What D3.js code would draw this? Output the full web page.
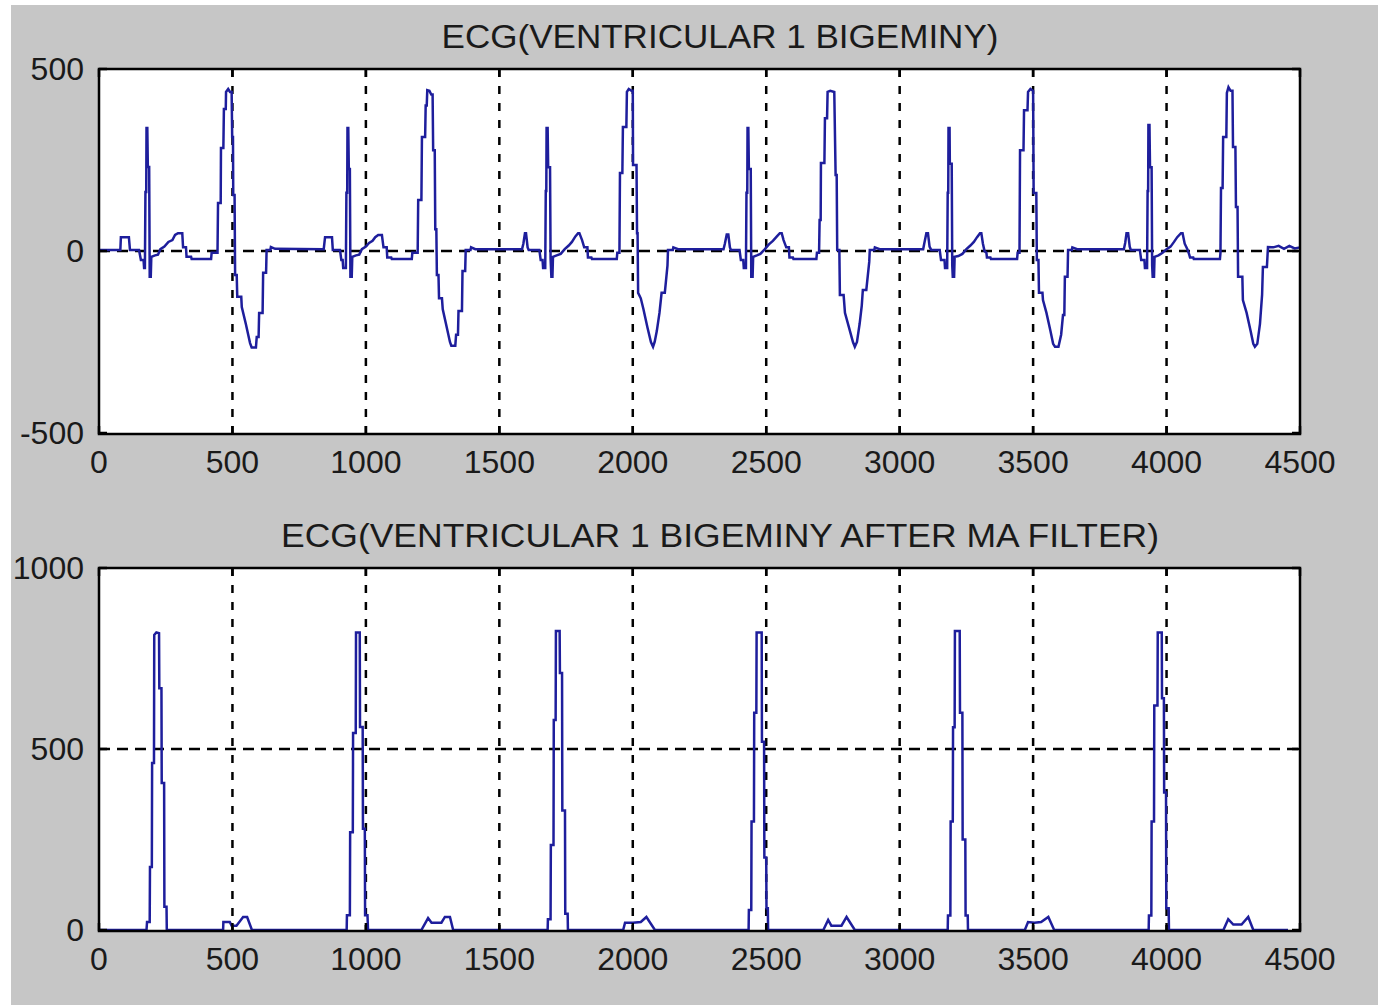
<!DOCTYPE html>
<html>
<head>
<meta charset="utf-8">
<script src="https://cdn.jsdelivr.net/npm/d3@7"></script>
<style>
  html, body { margin: 0; padding: 0; background: #ffffff; }
  svg { display: block; }
  text { font-family: "Liberation Sans", Arial, sans-serif; fill: #1a1a1a; }
</style>
</head>
<body>
<svg id="chart" width="1378" height="1005"></svg>
<script>
// ---------------- data ----------------
const titleTop = "ECG(VENTRICULAR 1 BIGEMINY)";
const titleBottom = "ECG(VENTRICULAR 1 BIGEMINY AFTER MA FILTER)";
const xTicks = [0, 500, 1000, 1500, 2000, 2500, 3000, 3500, 4000, 4500];
const xTickLabels = ["0", "500", "1000", "1500", "2000", "2500", "3000", "3500", "4000", "4500"];
const topYTicks = [-500, 0, 500];
const topYTickLabels = ["-500", "0", "500"];
const bottomYTicks = [0, 500, 1000];
const bottomYTickLabels = ["0", "500", "1000"];

// ECG signal, one array per bigeminy cycle (normal beat + ventricular beat), [sample, value]
const ecgCycle1 = [[0,3],[80,3],[82,38],[112,38],[116,3],[150,3],[157,-25],[167,-25],[169,-47],[172,-47],[174,162],[177,162],[178,338],[181,338],[183,231],[188,231],[190,-71],[194,-71],[196,-16],[210,-12],[221,-10],[230,5],[245,12],[260,25],[275,30],[285,44],[296,49],[312,49],[315,10],[326,10],[328,-16],[345,-16],[347,-22],[420,-22],[422,-5],[444,-5],[446,132],[456,132],[457,283],[466,283],[468,390],[475,390],[476,437],[484,445],[491,437],[497,437],[499,313],[502,313],[503,154],[508,154],[510,-66],[516,-66],[518,-126],[533,-126],[535,-154],[550,-200],[566,-253],[572,-265],[588,-265],[591,-236],[598,-236],[600,-170],[613,-170],[615,-60],[626,-60],[628,3],[642,3],[644,11],[660,6]];
const ecgCycle2 = [[840,5],[842,5],[847,38],[873,38],[876,3],[903,3],[908,-25],[913,-25],[915,-47],[925,-47],[927,160],[930,160],[931,338],[934,338],[936,225],[940,225],[942,-71],[947,-71],[949,-16],[963,-12],[975,-10],[985,5],[1000,12],[1012,22],[1025,28],[1035,38],[1046,44],[1060,44],[1066,10],[1078,10],[1080,-18],[1095,-18],[1097,-22],[1172,-22],[1174,-5],[1194,-5],[1196,140],[1208,140],[1210,313],[1222,313],[1224,400],[1228,400],[1230,442],[1238,440],[1245,430],[1250,430],[1252,277],[1258,277],[1260,60],[1264,60],[1266,-66],[1272,-66],[1274,-130],[1285,-130],[1288,-160],[1300,-200],[1315,-250],[1320,-260],[1335,-260],[1338,-230],[1345,-230],[1347,-165],[1360,-165],[1362,-55],[1372,-55],[1374,3],[1392,3],[1394,10],[1410,5]];
const ecgCycle3 = [[1585,5],[1590,20],[1596,49],[1600,49],[1606,10],[1610,3],[1650,3],[1655,-25],[1662,-25],[1664,-47],[1672,-47],[1674,165],[1676,165],[1677,338],[1681,338],[1683,230],[1690,230],[1692,-20],[1695,-71],[1699,-71],[1701,-16],[1715,-12],[1730,-8],[1745,5],[1760,15],[1772,25],[1785,40],[1795,49],[1800,49],[1810,30],[1818,10],[1830,10],[1832,-18],[1845,-18],[1847,-22],[1940,-22],[1942,-5],[1950,-5],[1952,214],[1961,214],[1963,341],[1976,341],[1978,437],[1985,445],[1995,440],[2000,440],[2001,236],[2014,236],[2016,49],[2018,49],[2020,-115],[2030,-130],[2040,-160],[2055,-210],[2068,-250],[2076,-263],[2082,-250],[2090,-220],[2100,-170],[2108,-115],[2120,-115],[2130,-40],[2132,3],[2150,3],[2152,10],[2170,5]];
const ecgCycle4 = [[2340,5],[2345,20],[2352,45],[2358,45],[2364,10],[2368,3],[2400,3],[2405,-25],[2414,-25],[2416,-47],[2424,-47],[2426,160],[2429,160],[2430,338],[2433,338],[2435,225],[2442,225],[2444,-71],[2449,-71],[2451,-16],[2465,-12],[2478,-8],[2495,5],[2510,18],[2525,28],[2540,40],[2551,49],[2558,49],[2565,30],[2575,10],[2585,10],[2587,-18],[2600,-18],[2602,-22],[2688,-22],[2690,-5],[2698,-5],[2700,85],[2704,85],[2705,242],[2718,242],[2720,365],[2728,365],[2730,437],[2740,440],[2755,437],[2760,209],[2764,209],[2766,3],[2774,3],[2776,-121],[2790,-121],[2795,-170],[2810,-210],[2825,-250],[2832,-263],[2840,-250],[2850,-200],[2858,-150],[2862,-107],[2875,-107],[2886,-30],[2888,3],[2905,3],[2907,10],[2925,5]];
const ecgCycle5 = [[3088,5],[3092,20],[3100,49],[3106,49],[3112,12],[3118,3],[3150,3],[3155,-25],[3168,-25],[3170,-47],[3178,-47],[3180,160],[3182,160],[3183,338],[3187,338],[3188,240],[3195,240],[3197,-40],[3199,-71],[3204,-71],[3206,-16],[3220,-14],[3235,-8],[3250,5],[3265,15],[3278,25],[3290,38],[3301,49],[3306,49],[3312,20],[3318,0],[3325,-5],[3327,-18],[3340,-18],[3342,-22],[3440,-22],[3442,-5],[3449,-5],[3451,277],[3464,277],[3466,387],[3479,387],[3481,437],[3490,445],[3500,440],[3502,159],[3512,159],[3514,-25],[3520,-25],[3522,-115],[3535,-115],[3537,-135],[3550,-170],[3565,-220],[3575,-255],[3582,-263],[3595,-263],[3605,-230],[3612,-176],[3617,-176],[3619,-71],[3629,-71],[3631,3],[3645,3],[3647,10],[3665,5]];
const ecgCycle6 = [[3840,5],[3845,22],[3850,49],[3856,49],[3862,12],[3866,3],[3900,3],[3905,-25],[3917,-25],[3919,-47],[3927,-47],[3929,165],[3931,165],[3932,346],[3936,346],[3938,230],[3944,230],[3946,-40],[3948,-71],[3953,-71],[3955,-16],[3970,-12],[3985,-5],[4000,5],[4015,12],[4028,25],[4040,38],[4054,49],[4060,49],[4068,20],[4078,5],[4085,-10],[4088,-18],[4100,-18],[4102,-22],[4200,-22],[4202,-5],[4204,173],[4210,173],[4212,313],[4224,313],[4226,434],[4232,450],[4240,440],[4247,440],[4249,286],[4258,286],[4260,121],[4266,121],[4268,-71],[4284,-71],[4286,-135],[4300,-170],[4315,-220],[4325,-255],[4331,-263],[4340,-255],[4350,-200],[4358,-120],[4361,-44],[4376,-44],[4380,11],[4400,10],[4420,14],[4440,6],[4460,14],[4480,7],[4500,10]];

// Moving-average filter output, one array per cycle (QRS peak + small bump), [sample, value]
const maCycle1 = [[0,0],[178,0],[180,22],[190,22],[191,174],[198,174],[199,461],[206,461],[207,815],[215,822],[225,820],[226,668],[234,668],[235,406],[244,406],[245,64],[253,64],[254,0],[465,0],[466,22],[490,22],[497,12],[515,12],[540,36],[555,36],[573,0]];
const maCycle2 = [[928,0],[929,41],[940,41],[941,270],[951,270],[952,544],[962,544],[963,822],[977,822],[978,561],[988,561],[989,280],[996,280],[997,41],[1006,41],[1008,0],[1208,0],[1233,33],[1246,20],[1283,20],[1296,36],[1315,36],[1327,0]];
const maCycle3 = [[1681,0],[1682,30],[1692,30],[1693,235],[1703,235],[1704,580],[1711,580],[1712,826],[1726,826],[1727,710],[1735,710],[1736,330],[1746,330],[1747,45],[1756,45],[1757,0],[1964,0],[1971,20],[2001,20],[2030,22],[2051,36],[2083,0]];
const maCycle4 = [[2434,0],[2435,55],[2444,55],[2445,300],[2454,300],[2455,600],[2463,600],[2464,822],[2483,822],[2484,520],[2492,520],[2493,200],[2500,200],[2501,60],[2506,60],[2507,0],[2714,0],[2732,28],[2744,12],[2782,12],[2801,36],[2832,0]];
const maCycle5 = [[3180,0],[3181,40],[3190,40],[3191,300],[3199,300],[3200,560],[3206,560],[3207,826],[3225,826],[3226,600],[3235,600],[3236,250],[3246,250],[3247,40],[3255,40],[3256,0],[3469,0],[3481,22],[3505,20],[3530,22],[3557,36],[3579,0]];
const maCycle6 = [[3933,0],[3934,40],[3943,40],[3944,300],[3953,300],[3954,620],[3966,620],[3967,822],[3982,822],[3983,640],[3990,640],[3991,380],[3998,380],[3999,60],[4008,60],[4009,0],[4213,0],[4231,30],[4250,15],[4281,15],[4306,36],[4325,0],[4455,0]];

// ---------------- drawing ----------------
const ecgSeries = [].concat(ecgCycle1, ecgCycle2, ecgCycle3, ecgCycle4, ecgCycle5, ecgCycle6);
const maSeries = [].concat(maCycle1, maCycle2, maCycle3, maCycle4, maCycle5, maCycle6);

const svg = d3.select("#chart");
svg.append("rect").attr("x", 11).attr("y", 5).attr("width", 1367).attr("height", 1000).attr("fill", "#c6c6c6");

const lineColor = "#1e1e9c";

function panel(cfg) {
  const g = svg.append("g");
  const x = d3.scaleLinear().domain([0, 4500]).range([cfg.left, cfg.right]);
  const y = d3.scaleLinear().domain(cfg.yDomain).range([cfg.bottom, cfg.top]);

  g.append("rect")
    .attr("x", cfg.left).attr("y", cfg.top)
    .attr("width", cfg.right - cfg.left).attr("height", cfg.bottom - cfg.top)
    .attr("fill", "#ffffff");

  // vertical grid
  g.selectAll(".vgrid").data(xTicks.filter(d => d > 0 && d < 4500)).enter()
    .append("line")
    .attr("x1", d => x(d)).attr("x2", d => x(d))
    .attr("y1", cfg.top).attr("y2", cfg.bottom)
    .attr("stroke", "#000").attr("stroke-width", 2.5)
    .attr("stroke-dasharray", "8,9");
  // horizontal grid
  g.selectAll(".hgrid").data(cfg.yTicks.filter(d => d > cfg.yDomain[0] && d < cfg.yDomain[1])).enter()
    .append("line")
    .attr("x1", cfg.left).attr("x2", cfg.right)
    .attr("y1", d => y(d)).attr("y2", d => y(d))
    .attr("stroke", "#000").attr("stroke-width", 2.5)
    .attr("stroke-dasharray", "11,7");

  // data line
  const line = d3.line().x(d => x(d[0])).y(d => y(d[1]));
  g.append("path").datum(cfg.data)
    .attr("d", line)
    .attr("fill", "none")
    .attr("stroke", lineColor)
    .attr("stroke-width", 2.5)
    .attr("stroke-linejoin", "miter");

  // box
  g.append("rect")
    .attr("x", cfg.left).attr("y", cfg.top)
    .attr("width", cfg.right - cfg.left).attr("height", cfg.bottom - cfg.top + 1)
    .attr("fill", "none").attr("stroke", "#000").attr("stroke-width", 2.5);

  // inward tick marks
  xTicks.forEach(t => {
    g.append("line").attr("x1", x(t)).attr("x2", x(t)).attr("y1", cfg.bottom + 1).attr("y2", cfg.bottom - 7).attr("stroke", "#000").attr("stroke-width", 2.5);
    g.append("line").attr("x1", x(t)).attr("x2", x(t)).attr("y1", cfg.top).attr("y2", cfg.top + 8).attr("stroke", "#000").attr("stroke-width", 2.5);
  });
  cfg.yTicks.forEach(t => {
    g.append("line").attr("x1", cfg.left).attr("x2", cfg.left + 8).attr("y1", y(t)).attr("y2", y(t)).attr("stroke", "#000").attr("stroke-width", 2.5);
    g.append("line").attr("x1", cfg.right - 8).attr("x2", cfg.right).attr("y1", y(t)).attr("y2", y(t)).attr("stroke", "#000").attr("stroke-width", 2.5);
  });

  // x tick labels
  g.selectAll(".xl").data(xTicks).enter().append("text")
    .attr("x", d => x(d)).attr("y", cfg.bottom + 40)
    .attr("text-anchor", "middle")
    .attr("font-size", 32)
    .text((d, i) => xTickLabels[i]);
  // y tick labels
  g.selectAll(".yl").data(cfg.yTicks).enter().append("text")
    .attr("x", cfg.left - 15).attr("y", d => y(d) + 11)
    .attr("text-anchor", "end")
    .attr("font-size", 32)
    .text((d, i) => cfg.yTickLabels[i]);

  // title
  g.append("text")
    .attr("x", 720).attr("y", cfg.titleY)
    .attr("text-anchor", "middle")
    .attr("font-size", 34)
    .attr("textLength", cfg.titleLen)
    .attr("lengthAdjust", "spacingAndGlyphs")
    .text(cfg.title);
}

panel({ left: 99, right: 1300, top: 69, bottom: 433, yDomain: [-500, 500],
        yTicks: topYTicks, yTickLabels: topYTickLabels, data: ecgSeries,
        title: titleTop, titleY: 48, titleLen: 557 });
panel({ left: 99, right: 1300, top: 568, bottom: 930, yDomain: [0, 1000],
        yTicks: bottomYTicks, yTickLabels: bottomYTickLabels, data: maSeries,
        title: titleBottom, titleY: 547, titleLen: 878 });
</script>
</body>
</html>
